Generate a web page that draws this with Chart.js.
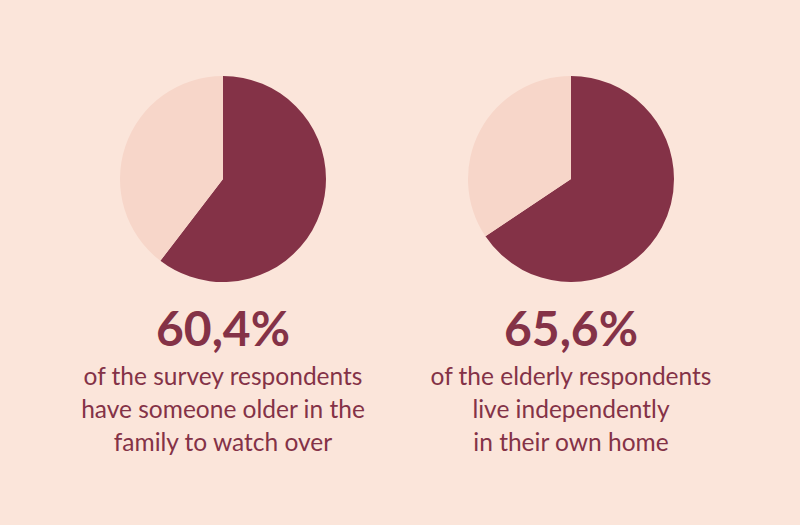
<!DOCTYPE html>
<html><head><meta charset="utf-8">
<script src="https://cdn.jsdelivr.net/npm/chart.js@4.4.0/dist/chart.umd.min.js"></script>
<style>
html,body{margin:0;padding:0;background:#fbe5da;}
#wrap{position:relative;width:800px;height:525px;background:#fbe5da;overflow:hidden;font-family:Lato,"Open Sans",sans-serif;color:#843247;}
canvas{position:absolute;}
.big{position:absolute;width:320px;text-align:center;font-weight:700;font-size:48px;line-height:48px;}
.sub{position:absolute;width:340px;text-align:center;font-size:24.5px;line-height:33px;}
</style></head>
<body><div id="wrap">
<canvas id="c1" width="206" height="206" style="left:120px;top:76px"></canvas>
<canvas id="c2" width="206" height="206" style="left:468px;top:76px"></canvas>
<div class="big" id="b1" style="left:63px;top:304px"></div>
<div class="sub" id="s1" style="left:53px;top:359px"></div>
<div class="big" id="b2" style="left:411px;top:304px"></div>
<div class="sub" id="s2" style="left:401px;top:359px"></div>
</div>
<script>
const categories = ["Yes", "No"];
const chart1Values = [60.4, 39.6];
const chart2Values = [65.6, 34.4];
const headlines = ["60,4%", "65,6%"];
const captions = [
  ["of the survey respondents", "have someone older in the", "family to watch over"],
  ["of the elderly respondents", "live independently", "in their own home"]
];
const colors = ["#843247", "#f7d6c9"];

function makePie(id, values){
  new Chart(document.getElementById(id), {
    type: 'pie',
    data: { labels: categories, datasets: [{ data: values, backgroundColor: colors, borderWidth: 0 }] },
    options: {
      responsive: false, animation: false,
      layout: { padding: 0 },
      plugins: { legend: { display: false }, tooltip: { enabled: false } }
    }
  });
}
makePie('c1', chart1Values);
makePie('c2', chart2Values);
document.getElementById('b1').textContent = headlines[0];
document.getElementById('b2').textContent = headlines[1];
document.getElementById('s1').innerHTML = captions[0].join('<br>');
document.getElementById('s2').innerHTML = captions[1].join('<br>');
</script>
</body></html>
